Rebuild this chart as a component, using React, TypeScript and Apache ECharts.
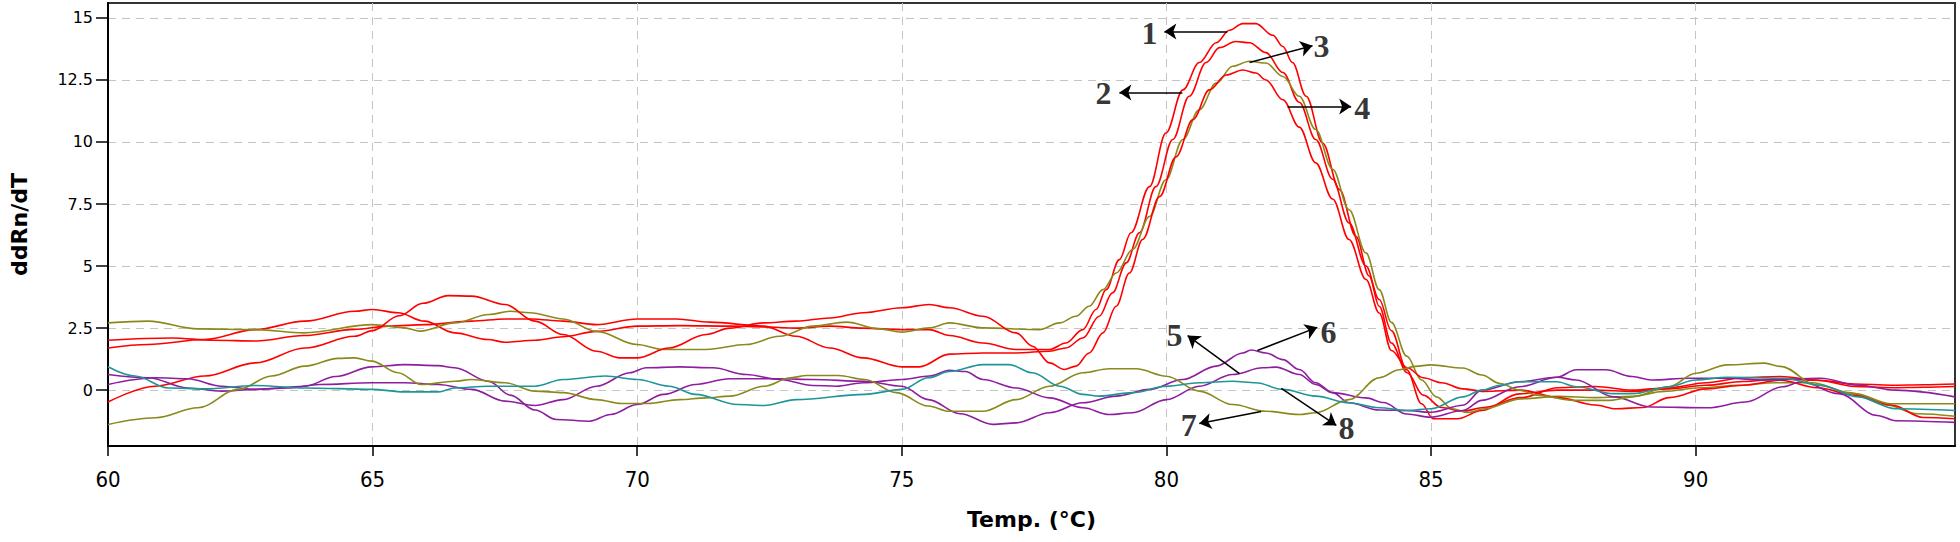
import React, { useEffect, useRef } from "react";
import * as echarts from "echarts";

// ---- axis ticks ----
const xTicks = [60, 65, 70, 75, 80, 85, 90];
const yTicks = [0, 2.5, 5, 7.5, 10, 12.5, 15];
const xRange = [60, 94.9];
const yRange = [-2.25, 15.6];

// ---- curves: [temperature °C, ddRn/dT] ----
const curve1: [number, number][] = [
  [60, 1.7], [60.76, 1.84], [61.83, 2.04], [62.78, 2.44], [63.72, 2.78], [64.66, 3.18], [65.0, 3.25], [65.48, 3.12],
  [65.98, 2.78], [66.55, 2.31], [67.18, 2.04], [67.5, 1.93], [68.07, 2.01], [68.6, 2.15], [69.23, 2.37], [70.0, 2.58],
  [70.8, 2.6], [71.75, 2.58], [72.38, 2.55], [73.0, 2.5], [73.64, 2.58], [74.27, 2.5], [75.0, 2.44], [75.52, 2.44],
  [75.9, 2.2], [76.53, 1.9], [77.16, 1.64], [77.79, 1.64], [78.1, 1.9], [78.42, 2.44], [78.67, 3.25], [78.86, 4.05],
  [79.11, 5.26], [79.33, 6.34], [79.68, 8.2], [79.99, 10.36], [80.31, 12.1], [80.62, 13.2], [80.94, 14.0], [81.19, 14.5],
  [81.44, 14.77], [81.69, 14.77], [82.01, 14.3], [82.2, 13.85], [82.38, 13.2], [82.64, 11.84], [82.95, 9.96], [83.27, 8.08],
  [83.58, 6.2], [83.83, 4.6], [84.02, 3.38], [84.25, 1.9], [84.55, 0.7], [84.85, -0.2], [85.2, -0.7], [85.6, -0.85],
  [86.0, -0.7], [86.7, -0.3], [87.4, 0.1], [88.1, 0.15], [88.8, 0.0], [89.5, 0.1], [90.2, 0.3], [90.9, 0.5],
  [91.6, 0.55], [92.3, 0.4], [93.0, 0.15], [93.7, 0.1], [94.3, 0.12], [94.9, 0.15],
];
const curve2: [number, number][] = [
  [60, 2.01], [61.2, 2.1], [62.0, 2.01], [62.8, 1.98], [63.7, 2.2], [64.66, 2.45], [65.3, 2.58], [66.0, 2.64],
  [66.87, 2.78], [67.5, 2.87], [68.0, 2.87], [68.6, 2.78], [69.23, 2.64], [70.0, 2.87], [70.74, 2.87], [71.37, 2.74],
  [72.38, 2.58], [73.0, 2.17], [73.64, 1.7], [74.27, 1.3], [75.0, 0.94], [75.33, 0.94], [75.9, 1.45], [76.53, 1.5],
  [77.16, 1.5], [77.79, 1.57], [78.1, 1.7], [78.42, 2.1], [78.73, 2.98], [78.98, 3.92], [79.24, 5.13], [79.49, 6.34],
  [79.8, 8.2], [80.12, 10.1], [80.43, 11.84], [80.75, 13.2], [81.0, 13.8], [81.31, 14.05], [81.57, 14.0], [81.88, 13.6],
  [82.2, 12.8], [82.51, 11.6], [82.82, 10.1], [83.14, 8.5], [83.45, 6.74], [83.77, 5.0], [84.02, 3.65], [84.25, 2.4],
  [84.54, 0.82], [84.82, -0.55], [85.04, -1.15], [85.5, -1.15], [85.96, -0.82], [86.67, -0.15], [87.38, 0.0], [88.1, 0.0],
  [88.8, -0.05], [89.5, 0.05], [90.2, 0.2], [90.9, 0.35], [91.6, 0.45], [92.3, 0.4], [93.0, 0.25], [93.7, 0.2],
  [94.3, 0.22], [94.9, 0.25],
];
const curve3: [number, number][] = [
  [60, 2.71], [60.76, 2.78], [61.7, 2.47], [62.8, 2.44], [63.7, 2.31], [65.0, 2.64], [65.6, 2.51], [65.9, 2.38],
  [66.55, 2.71], [67.2, 3.05], [67.6, 3.18], [67.97, 3.12], [68.6, 2.87], [69.23, 2.37], [70.0, 1.84], [70.49, 1.64],
  [71.3, 1.64], [72.06, 1.84], [72.69, 2.17], [73.32, 2.58], [73.95, 2.74], [74.58, 2.47], [75.0, 2.34], [75.52, 2.51],
  [75.9, 2.71], [76.53, 2.51], [77.6, 2.44], [77.98, 2.71], [78.29, 2.98], [78.54, 3.38], [78.8, 4.05], [79.05, 4.72],
  [79.36, 5.67], [79.68, 7.0], [79.99, 8.48], [80.31, 10.1], [80.62, 11.3], [80.94, 12.37], [81.25, 13.05], [81.57, 13.25],
  [81.88, 13.18], [82.2, 12.64], [82.51, 11.84], [82.82, 10.5], [83.14, 8.9], [83.45, 7.27], [83.77, 5.53], [84.02, 4.05],
  [84.25, 2.73], [84.54, 1.37], [84.82, 0.41], [85.1, -0.27], [85.4, -0.75], [85.7, -0.9], [86.0, -0.75], [86.7, -0.35],
  [87.4, -0.25], [88.1, -0.3], [88.8, -0.25], [89.4, -0.05], [90.1, 0.1], [90.8, 0.2], [91.5, 0.3], [92.2, 0.3],
  [92.9, -0.1], [93.6, -0.6], [94.2, -0.95], [94.9, -1.05],
];
const curve4: [number, number][] = [
  [60, -0.48], [60.89, 0.16], [61.83, 0.57], [62.78, 1.1], [63.72, 1.7], [64.66, 2.17], [65.0, 2.4], [65.5, 3.0],
  [65.95, 3.5], [66.43, 3.81], [66.87, 3.79], [67.5, 3.45], [68.07, 2.78], [68.6, 2.24], [69.23, 1.57], [69.67, 1.3],
  [70.0, 1.3], [70.6, 1.7], [71.3, 2.24], [71.75, 2.5], [72.38, 2.71], [73.0, 2.78], [73.64, 2.91], [74.27, 3.12],
  [75.0, 3.32], [75.52, 3.45], [75.9, 3.32], [76.53, 2.98], [77.16, 2.31], [77.47, 1.77], [77.79, 1.1], [78.07, 0.83],
  [78.29, 0.97], [78.54, 1.5], [78.8, 2.31], [79.05, 3.38], [79.3, 4.72], [79.55, 6.07], [79.87, 7.8], [80.18, 9.4],
  [80.5, 10.9], [80.81, 12.1], [81.13, 12.7], [81.44, 12.9], [81.69, 12.78], [81.88, 12.5], [82.2, 11.7], [82.51, 10.6],
  [82.82, 9.16], [83.14, 7.7], [83.45, 6.07], [83.77, 4.46], [84.02, 3.11], [84.25, 1.6], [84.55, 0.9], [84.85, 0.5],
  [85.2, 0.3], [85.6, 0.05], [86.0, -0.05], [86.7, 0.0], [87.4, -0.3], [88.1, -0.6], [88.5, -0.75], [89.0, -0.7],
  [89.5, -0.3], [90.2, 0.05], [90.9, 0.2], [91.6, 0.4], [92.3, 0.1], [93.0, -0.2], [93.7, -0.6], [94.3, -1.1],
  [94.9, -1.15],
];
const curve5: [number, number][] = [
  [60, 0.63], [60.76, 0.5], [61.5, 0.09], [62.15, -0.04], [62.78, 0.03], [63.4, 0.09], [64.0, 0.23], [64.98, 0.3],
  [65.6, 0.3], [66.24, 0.23], [66.87, 0.03], [67.5, -0.44], [68.07, -0.62], [68.6, -0.38], [69.23, 0.16], [69.86, 0.7],
  [70.17, 0.9], [70.8, 0.94], [71.43, 0.9], [72.06, 0.63], [72.69, 0.43], [73.32, 0.19], [73.76, 0.16], [74.27, 0.3],
  [75.0, 0.43], [75.52, 0.57], [75.9, 0.8], [76.2, 0.75], [76.53, 0.43], [77.16, 0.09], [77.79, -0.31], [78.42, -0.71],
  [78.92, -0.98], [79.36, -0.91], [80.0, -0.38], [80.62, 0.16], [81.25, 0.63], [81.82, 0.9], [82.07, 0.93], [82.51, 0.63],
  [82.82, 0.23], [83.14, -0.1], [83.77, -0.31], [84.1, -0.5], [84.54, -0.96], [85.0, -1.09], [85.6, -0.82], [85.96, -0.41],
  [86.67, 0.14], [87.38, 0.52], [87.74, 0.82], [88.3, 0.82], [88.8, 0.55], [89.16, 0.41], [89.87, 0.48], [90.58, 0.48],
  [91.3, 0.41], [92.36, 0.48], [93.07, 0.2], [93.78, 0.0], [94.9, -0.27],
];
const curve6: [number, number][] = [
  [60, 0.23], [60.9, 0.5], [61.5, 0.46], [62.15, 0.16], [62.78, 0.03], [63.72, 0.16], [64.3, 0.55], [64.98, 0.94],
  [65.6, 1.03], [66.24, 0.99], [66.55, 0.9], [67.2, 0.35], [67.6, -0.2], [68.07, -0.8], [68.47, -1.18], [69.1, -1.25],
  [69.5, -0.98], [70.0, -0.58], [70.5, -0.17], [71.1, 0.23], [71.75, 0.46], [72.7, 0.46], [73.3, 0.43], [74.3, 0.36],
  [75.0, 0.16], [75.5, -0.38], [76.1, -0.95], [76.72, -1.38], [77.16, -1.32], [77.79, -0.91], [78.42, -0.51], [79.05, -0.24],
  [79.68, 0.03], [80.31, 0.43], [80.94, 0.97], [81.44, 1.5], [81.6, 1.62], [81.88, 1.5], [82.2, 1.23], [82.51, 0.83],
  [82.82, 0.3], [83.14, -0.1], [83.45, -0.51], [84.02, -0.8], [84.54, -0.82], [85.0, -0.89], [85.6, -0.61], [85.96, 0.0],
  [86.67, 0.34], [87.38, 0.52], [87.74, 0.41], [88.45, -0.27], [89.16, -0.68], [90.23, -0.71], [90.94, -0.48], [91.65, 0.14],
  [92.0, 0.34], [92.7, -0.14], [93.43, -1.02], [93.78, -1.23], [94.9, -1.3],
];
const curve7: [number, number][] = [
  [60, -1.38], [60.9, -1.11], [61.7, -0.71], [62.46, 0.03], [63.09, 0.57], [63.72, 0.97], [64.35, 1.28], [64.66, 1.3],
  [64.98, 1.17], [65.48, 0.7], [65.92, 0.23], [66.55, 0.36], [66.87, 0.43], [67.5, 0.3], [68.07, -0.04], [68.6, -0.1],
  [69.23, -0.38], [69.7, -0.54], [70.2, -0.54], [70.8, -0.38], [71.3, -0.31], [71.75, -0.24], [72.4, 0.16], [72.9, 0.5],
  [73.2, 0.59], [73.8, 0.59], [74.3, 0.43], [74.9, -0.1], [75.5, -0.64], [75.9, -0.85], [76.53, -0.85], [77.16, -0.38],
  [77.79, 0.16], [78.42, 0.7], [78.92, 0.86], [79.43, 0.86], [80.0, 0.56], [80.62, -0.04], [81.25, -0.58], [81.88, -0.85],
  [82.51, -0.98], [82.82, -0.91], [83.45, -0.38], [84.02, 0.5], [84.4, 0.82], [84.7, 0.96], [85.0, 1.02], [85.6, 0.89],
  [85.96, 0.61], [86.3, 0.27], [86.67, 0.0], [87.0, -0.2], [87.7, -0.41], [88.4, -0.41], [88.8, -0.27], [89.5, 0.14],
  [90.0, 0.68], [90.6, 1.02], [91.3, 1.09], [91.6, 0.96], [92.3, 0.2], [93.0, -0.14], [93.7, -0.55], [94.9, -0.55],
];
const curve8: [number, number][] = [
  [60, 0.94], [60.51, 0.57], [61.14, 0.09], [61.83, 0.05], [62.78, 0.19], [63.72, 0.09], [64.98, 0.03], [65.6, -0.07],
  [66.24, -0.07], [66.55, 0.09], [67.18, 0.16], [68.07, 0.16], [68.6, 0.43], [69.4, 0.57], [70.0, 0.43], [70.6, 0.16],
  [71.1, -0.17], [71.9, -0.58], [72.4, -0.62], [73.0, -0.38], [74.3, -0.17], [75.0, 0.03], [75.5, 0.5], [75.9, 0.75],
  [76.53, 1.03], [77.03, 1.03], [77.47, 0.7], [77.98, 0.16], [78.42, -0.17], [78.73, -0.24], [79.36, -0.1], [80.0, 0.16],
  [80.62, 0.3], [81.25, 0.36], [81.69, 0.3], [82.2, 0.03], [82.82, -0.24], [83.45, -0.51], [84.02, -0.71], [84.54, -0.82],
  [85.0, -0.75], [85.6, -0.27], [85.96, 0.0], [86.3, 0.2], [86.67, 0.34], [87.38, 0.34], [87.74, 0.14], [88.45, -0.14],
  [88.8, -0.14], [89.5, 0.14], [90.0, 0.41], [90.6, 0.52], [91.65, 0.48], [92.36, 0.2], [93.07, -0.27], [93.78, -0.75],
  [94.9, -0.82],
];

const curves = [curve1, curve2, curve3, curve4, curve5, curve6, curve7, curve8];
const curveColors = ["#ff0000", "#ff0000", "#8a8a1c", "#ff0000", "#8e1e9e", "#8e1e9e", "#8a8a1c", "#1e9696"];

// ---- annotation numbers: [temperature, value, text] ----
const labelPoints: [number, number, string][] = [
  [79.68, 14.4, "1"],
  [78.81, 11.99, "2"],
  [82.93, 13.88, "3"],
  [83.7, 11.38, "4"],
  [80.15, 2.24, "5"],
  [83.06, 2.36, "6"],
  [80.42, -1.42, "7"],
  [83.4, -1.54, "8"],
];
// ---- arrows: [fromT, fromV, toT, toV] ----
const arrows: [number, number, number, number][] = [
  [81.15, 14.45, 79.96, 14.45],
  [80.3, 11.99, 79.11, 11.99],
  [81.57, 13.2, 82.76, 13.88],
  [82.29, 11.43, 83.49, 11.43],
  [81.38, 0.67, 80.4, 2.2],
  [81.72, 1.6, 82.85, 2.53],
  [81.79, -0.86, 80.62, -1.34],
  [82.17, 0.07, 83.21, -1.42],
];

export default function App() {
  const ref = useRef<HTMLDivElement>(null);
  useEffect(() => {
    if (!ref.current) return;
    const chart = echarts.init(ref.current, undefined, { renderer: "svg" });
    const gridLine = { show: true, lineStyle: { color: "#c4c4c4", type: [8, 6] as any, width: 1 } };
    const lineSeries = curves.map((c, i) => ({
      type: "line",
      name: "curve" + (i + 1),
      data: c,
      showSymbol: false,
      symbol: "none",
      smooth: 0.35,
      smoothMonotone: "x",
      silent: true,
      lineStyle: { color: curveColors[i], width: 1.6 },
      itemStyle: { color: curveColors[i] },
      z: 2,
    }));
    chart.setOption({
      animation: false,
      backgroundColor: "#ffffff",
      grid: { left: 108, right: 5, top: 3, bottom: 96, show: true, borderColor: "#333", borderWidth: 2, backgroundColor: "transparent" },
      xAxis: {
        type: "value",
        min: xRange[0],
        max: xRange[1],
        name: "Temp. (°C)",
        nameLocation: "middle",
        nameGap: 62,
        nameTextStyle: { fontFamily: "DejaVu Sans", fontWeight: "bold", fontSize: 22, color: "#000" },
        axisLine: { show: true, onZero: false, lineStyle: { color: "#000", width: 2 } },
        axisTick: { show: true, length: 10, customValues: xTicks, lineStyle: { color: "#000", width: 1.5 } },
        axisLabel: { customValues: xTicks, margin: 22, fontFamily: "DejaVu Sans Condensed, DejaVu Sans", fontSize: 22, color: "#000" },
        splitLine: gridLine,
      },
      yAxis: {
        type: "value",
        min: yRange[0],
        max: yRange[1],
        name: "ddRn/dT",
        nameLocation: "middle",
        nameRotate: 90,
        nameGap: 78,
        nameTextStyle: { fontFamily: "DejaVu Sans", fontWeight: "bold", fontSize: 22, color: "#000" },
        axisLine: { show: true, onZero: false, lineStyle: { color: "#000", width: 2 } },
        axisTick: { show: true, length: 12, customValues: yTicks, lineStyle: { color: "#000", width: 1.5 } },
        axisLabel: { customValues: yTicks, margin: 15, fontFamily: "DejaVu Sans", fontSize: 16, color: "#000" },
        splitLine: gridLine,
      },
      series: [
        ...lineSeries,
        {
          type: "scatter",
          name: "labels",
          data: labelPoints.map((p) => ({ value: [p[0], p[1]], label: { formatter: p[2] } })),
          symbolSize: 1,
          itemStyle: { color: "rgba(0,0,0,0)" },
          silent: true,
          z: 6,
          label: {
            show: true,
            position: "inside",
            fontFamily: "Liberation Serif",
            fontWeight: "bold",
            fontSize: 32,
            color: "#000",
          },
          markLine: {
            silent: true,
            symbol: ["none", "arrow"],
            symbolSize: 12,
            label: { show: false },
            emphasis: { disabled: true },
            lineStyle: { color: "#000", width: 1.5, type: "solid" },
            data: arrows.map((a) => [{ coord: [a[0], a[1]] }, { coord: [a[2], a[3]] }]),
          },
        },
      ],
    } as any);
    return () => chart.dispose();
  }, []);
  return <div ref={ref} style={{ position: "fixed", left: 0, top: 0, width: 1960, height: 542 }} />;
}
